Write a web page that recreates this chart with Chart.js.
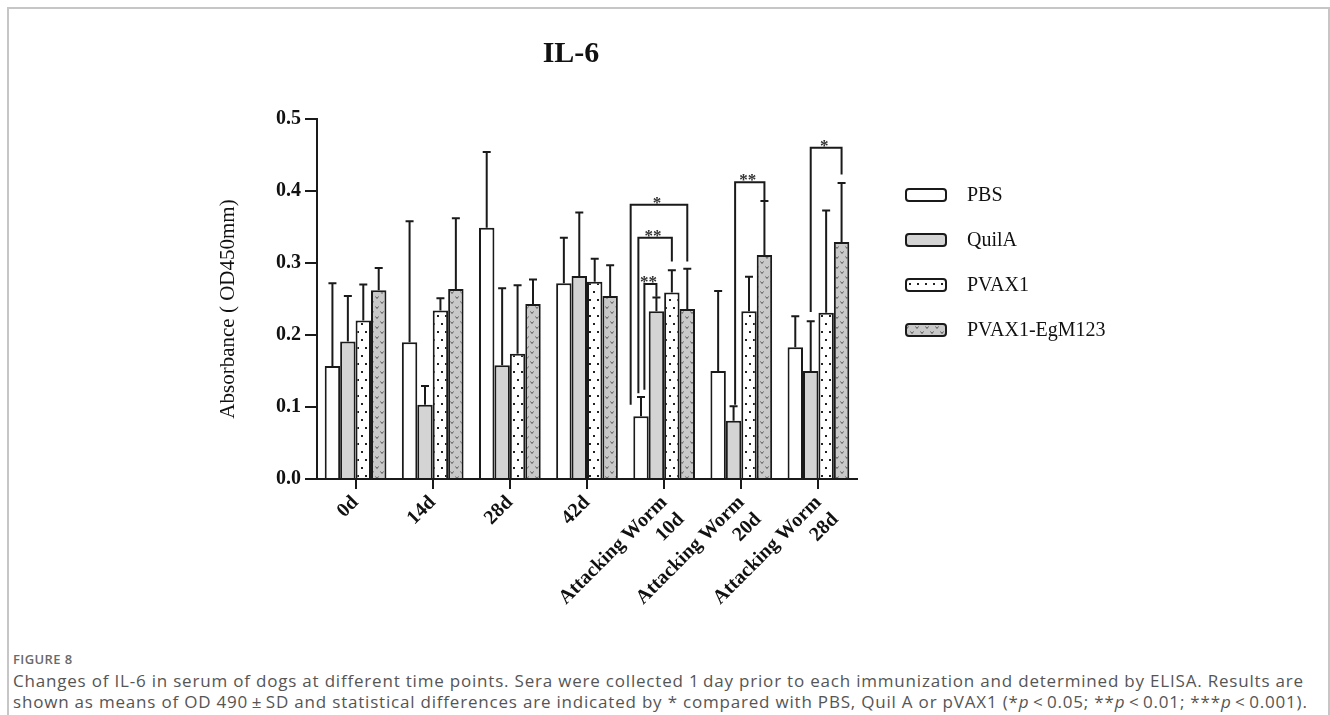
<!DOCTYPE html>
<html lang="en">
<head>
<meta charset="UTF-8">
<title>IL-6</title>
<script src="https://cdn.jsdelivr.net/npm/chart.js"></script>
<style>
    body { margin: 0; background: #fff; width: 1330px; height: 715px; overflow: hidden; position: relative; }
    .frame { position: absolute; left: 7px; top: 7px; width: 1323px; height: 760px; border: 2px solid #c6c6c6; box-sizing: border-box; }
    #chart { position: absolute; left: 0; top: 0; }
    .fig { position: absolute; left: 13px; top: 650px; font-family: 'Open Sans', sans-serif; font-size: 13px; letter-spacing: 0.4px; font-weight: 600; color: #6a6a6a; }
    .caption { position: absolute; left: 13px; top: 670px; font-family: 'Open Sans', sans-serif; font-size: 17px; letter-spacing: 0.8px; line-height: 21px; color: #555; white-space: nowrap; }
</style>
</head>
<body>
<div class="frame"></div>
<canvas id="chart" width="1330" height="640"></canvas>
<div class="fig">FIGURE 8</div>
<div class="caption">Changes of IL-6 in serum of dogs at different time points. Sera were collected 1&#8201;day prior to each immunization and determined by ELISA. Results are<br>shown as means of OD 490&#8201;±&#8201;SD and statistical differences are indicated by * compared with PBS, Quil A or pVAX1 (*<i>p</i>&#8201;&lt;&#8201;0.05; **<i>p</i>&#8201;&lt;&#8201;0.01; ***<i>p</i>&#8201;&lt;&#8201;0.001).</div>

<script>
// data
const categories = ['0d', '14d', '28d', '42d', ['Attacking Worm', '10d'], ['Attacking Worm', '20d'], ['Attacking Worm', '28d']];
const groups = ['PBS', 'QuilA', 'PVAX1', 'PVAX1-EgM123'];
const pbs     = [0.157, 0.190, 0.349, 0.272, 0.087, 0.150, 0.183];
const quilA   = [0.191, 0.103, 0.158, 0.282, 0.233, 0.081, 0.150];
const pvax1   = [0.220, 0.234, 0.174, 0.274, 0.259, 0.233, 0.231];
const egm123  = [0.262, 0.264, 0.243, 0.254, 0.236, 0.311, 0.329];
const pbsSD    = [0.115, 0.168, 0.105, 0.063, 0.027, 0.111, 0.043];
const quilASD  = [0.063, 0.026, 0.107, 0.088, 0.019, 0.020, 0.069];
const pvax1SD  = [0.050, 0.017, 0.095, 0.032, 0.031, 0.048, 0.142];
const egm123SD = [0.031, 0.098, 0.034, 0.043, 0.056, 0.075, 0.082];
const yTicks = [0, 0.1, 0.2, 0.3, 0.4, 0.5];

// significance brackets: category, left/right series, leg ends and top in axis units
const brackets = [
    { cat: 4, from: 0, shift: 0.22,  to: 1, fromEnd: 0.124, toEnd: 0.253, top: 0.271, mark: '**' },
    { cat: 4, from: 0, shift: -0.17, to: 2, fromEnd: 0.119, toEnd: 0.302, top: 0.335, mark: '**' },
    { cat: 4, from: 0, shift: -0.67, to: 3, fromEnd: 0.103, toEnd: 0.302, top: 0.381, mark: '*' },
    { cat: 5, from: 1, shift: 0.1,   to: 3, fromEnd: 0.103, toEnd: 0.387, top: 0.412, mark: '**' },
    { cat: 6, from: 1, shift: 0,     to: 3, fromEnd: 0.232, toEnd: 0.423, top: 0.460, mark: '*' }
];

const serif = "'Liberation Serif', 'Times New Roman', serif";
const ink = '#1a1a1a';

function makePattern(w, h, bg, draw) {
    const c = document.createElement('canvas');
    c.width = w; c.height = h;
    const g = c.getContext('2d');
    g.fillStyle = bg;
    g.fillRect(0, 0, w, h);
    draw(g);
    return g.createPattern(c, 'repeat');
}

const dotFill = makePattern(8, 16, '#ffffff', g => {
    g.fillStyle = '#222';
    g.fillRect(1, 3, 2, 2);
    g.fillRect(5, 11, 2, 2);
});
const checkFill = makePattern(10, 10, '#c9c9c9', g => {
    g.strokeStyle = '#555';
    g.lineWidth = 1;
    g.beginPath();
    g.moveTo(0.5, 1.5); g.lineTo(2, 3.5); g.lineTo(3.5, 1.5);
    g.moveTo(5.5, 6.5); g.lineTo(7, 8.5); g.lineTo(8.5, 6.5);
    g.stroke();
});
const fills = ['#ffffff', '#d4d4d4', dotFill, checkFill];

const extras = {
    id: 'extras',
    afterDatasetsDraw(chart) {
        const ctx = chart.ctx;
        const y = chart.scales.y;
        ctx.save();
        ctx.strokeStyle = ink;
        ctx.lineWidth = 2;
        // error bars (upper only)
        chart.data.datasets.forEach((ds, i) => {
            chart.getDatasetMeta(i).data.forEach((bar, j) => {
                const top = y.getPixelForValue(ds.data[j] + ds.sd[j]);
                ctx.beginPath();
                ctx.moveTo(bar.x, bar.y);
                ctx.lineTo(bar.x, top);
                ctx.moveTo(bar.x - 4, top);
                ctx.lineTo(bar.x + 4, top);
                ctx.stroke();
            });
        });
        // brackets
        ctx.font = 'bold 17px ' + serif;
        ctx.fillStyle = '#333';
        ctx.textAlign = 'center';
        ctx.textBaseline = 'alphabetic';
        brackets.forEach(b => {
            const a = chart.getDatasetMeta(b.from).data[b.cat];
            const c = chart.getDatasetMeta(b.to).data[b.cat];
            const x1 = a.x + b.shift * a.width;
            const x2 = c.x;
            const yt = y.getPixelForValue(b.top);
            ctx.beginPath();
            ctx.moveTo(x1, y.getPixelForValue(b.fromEnd));
            ctx.lineTo(x1, yt);
            ctx.lineTo(x2, yt);
            ctx.lineTo(x2, y.getPixelForValue(b.toEnd));
            ctx.stroke();
            ctx.fillText(b.mark, (x1 + x2) / 2 - 2, yt + 3);
        });
        ctx.restore();
    },
    afterDraw(chart) {
        const ctx = chart.ctx;
        const area = chart.chartArea;
        ctx.save();
        // title
        ctx.fillStyle = '#111';
        ctx.font = 'bold 30px ' + serif;
        ctx.textAlign = 'center';
        ctx.textBaseline = 'middle';
        ctx.fillText('IL-6', area.left + 254, 54);
        // y title
        ctx.font = '21px ' + serif;
        ctx.translate(228, (area.top + area.bottom) / 2 + 10);
        ctx.rotate(-Math.PI / 2);
        ctx.fillText('Absorbance ( OD450mm)', 0, 0);
        ctx.setTransform(1, 0, 0, 1, 0, 0);
        // legend
        const lx = area.right + 49, ly = 195, gap = 45;
        ctx.textAlign = 'left';
        ctx.font = '20px ' + serif;
        groups.forEach((name, i) => {
            const yy = ly + i * gap;
            ctx.beginPath();
            ctx.roundRect(lx, yy - 6, 40, 12, 3);
            ctx.fillStyle = fills[i];
            ctx.fill();
            ctx.strokeStyle = ink;
            ctx.lineWidth = 2;
            ctx.stroke();
            ctx.fillStyle = '#111';
            ctx.fillText(name, lx + 61, yy + 1);
        });
        ctx.restore();
    }
};

const seriesValues = [pbs, quilA, pvax1, egm123];
const seriesSD = [pbsSD, quilASD, pvax1SD, egm123SD];

new Chart(document.getElementById('chart'), {
    type: 'bar',
    data: {
        labels: categories,
        datasets: groups.map((name, i) => ({
            label: name,
            data: seriesValues[i],
            sd: seriesSD[i],
            backgroundColor: fills[i],
            borderColor: ink,
            borderWidth: 2,
            categoryPercentage: 0.8,
            barPercentage: 1.0
        }))
    },
    options: {
        responsive: false,
        animation: false,
        layout: { padding: { left: 0, top: 119, right: 473, bottom: 21 } },
        plugins: { legend: { display: false }, tooltip: { enabled: false } },
        scales: {
            x: {
                afterFit: s => { s.height = 140; },
                grid: { offset: false, drawOnChartArea: false, drawTicks: true, tickLength: 10, color: ink, lineWidth: 2 },
                border: { color: ink, width: 2 },
                ticks: {
                    color: '#111',
                    minRotation: 45,
                    maxRotation: 45,
                    autoSkip: false,
                    padding: 2,
                    font: { family: serif, size: 20, weight: 'bold', lineHeight: 1.2 }
                }
            },
            y: {
                min: 0,
                max: 0.5,
                afterFit: s => { s.width = 317; },
                afterBuildTicks: s => { s.ticks = yTicks.map(v => ({ value: v })); },
                grid: { drawOnChartArea: false, drawTicks: true, tickLength: 12, color: ink, lineWidth: 2 },
                border: { color: ink, width: 2 },
                ticks: {
                    color: '#111',
                    padding: 4,
                    callback: v => v.toFixed(1),
                    font: { family: serif, size: 20, weight: 'bold' }
                }
            }
        }
    },
    plugins: [extras]
});
</script>
</body>
</html>
